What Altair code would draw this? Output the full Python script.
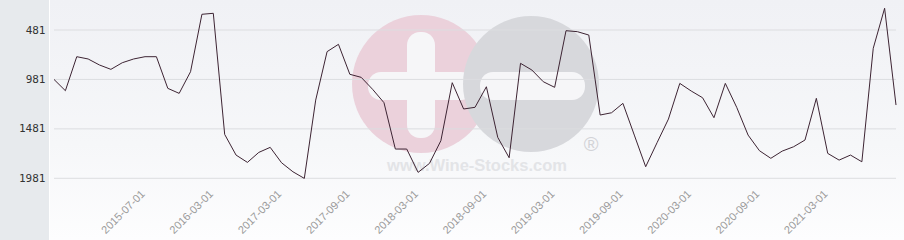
import altair as alt
import pandas as pd

dates = [
    "2014-11-01", "2014-12-01", "2015-01-01", "2015-02-01", "2015-03-01",
    "2015-04-01", "2015-05-01", "2015-06-01", "2015-07-01", "2015-09-01",
    "2015-10-01", "2015-11-01", "2015-12-01", "2016-01-01", "2016-03-01",
    "2016-05-01", "2016-07-01", "2016-09-01", "2016-11-01", "2017-01-01",
    "2017-03-01", "2017-04-01", "2017-05-01", "2017-06-01", "2017-07-01",
    "2017-08-01", "2017-09-01", "2017-10-01", "2017-11-01", "2017-12-01",
    "2018-01-01", "2018-02-01", "2018-03-01", "2018-04-01", "2018-05-01",
    "2018-06-01", "2018-07-01", "2018-08-01", "2018-09-01", "2018-10-01",
    "2018-11-01", "2018-12-01", "2019-01-01", "2019-02-01", "2019-03-01",
    "2019-04-01", "2019-05-01", "2019-06-01", "2019-07-01", "2019-08-01",
    "2019-09-01", "2019-10-01", "2019-11-01", "2019-12-01", "2020-01-01",
    "2020-02-01", "2020-03-01", "2020-04-01", "2020-05-01", "2020-06-01",
    "2020-07-01", "2020-08-01", "2020-09-01", "2020-10-01", "2020-11-01",
    "2020-12-01", "2021-01-01", "2021-02-01", "2021-03-01", "2021-04-01",
    "2021-05-01", "2021-06-01", "2021-07-01", "2021-08-01", "2021-09-01",
]

ranks = [
    981, 1095, 751, 774, 835, 879, 812, 774, 751, 751,
    1071, 1122, 903, 322, 312, 1537, 1746, 1820, 1719, 1668,
    1824, 1915, 1982, 1190, 700, 626, 929, 960, 1081, 1216,
    1685, 1685, 1921, 1830, 1601, 1014, 1280, 1263, 1055, 1567,
    1773, 818, 886, 1004, 1061, 488, 498, 532, 1341, 1318,
    1223, 1544, 1864, 1621, 1382, 1021, 1098, 1166, 1368, 1021,
    1263, 1544, 1702, 1779, 1706, 1662, 1594, 1172, 1729, 1797,
    1746, 1814, 666, 261, 1240,
]

x_labels = [
    "2015-07-01", "2016-03-01", "2017-03-01", "2017-09-01", "2018-03-01",
    "2018-09-01", "2019-03-01", "2019-09-01", "2020-03-01", "2020-09-01",
    "2021-03-01",
]
y_ticks = [481, 981, 1481, 1981]

W = 842
H = 190
PAD_L = 54
PAD_B = 240 - H

df = pd.DataFrame({"date": dates, "rank": ranks})
one = pd.DataFrame({"k": [0]})
grid_df = pd.DataFrame({"rank": y_ticks})

yscale = alt.Scale(domain=[177.5, 2099.4], reverse=True, nice=False, zero=False)
xscale = alt.Scale(type="point", padding=0)

bg = alt.Chart(one).mark_rect(
    fill=alt.LinearGradient(
        gradient="linear",
        stops=[
            alt.GradientStop(color="#f0f1f5", offset=0),
            alt.GradientStop(color="#f6f7f9", offset=0.6),
            alt.GradientStop(color="#fdfdfe", offset=1),
        ],
        x1=0, x2=0, y1=0, y2=1,
    )
).encode(
    x=alt.value(-4), x2=alt.value(W + 10),
    y=alt.value(0), y2=alt.value(240),
)

panel = alt.Chart(one).mark_rect(fill="#e7eaed").encode(
    x=alt.value(-PAD_L), x2=alt.value(-5),
    y=alt.value(0), y2=alt.value(240),
)

# watermark (decoration)
pink = alt.Chart(one).mark_point(
    shape="circle", filled=True, color="#ebd1db", opacity=1, size=138 * 138
).encode(x=alt.value(421 - PAD_L), y=alt.value(84))
pink_v = alt.Chart(one).mark_rect(fill="#f6f6f8", cornerRadius=13).encode(
    x=alt.value(407 - PAD_L), x2=alt.value(435 - PAD_L),
    y=alt.value(32), y2=alt.value(138),
)
pink_h = alt.Chart(one).mark_rect(fill="#f6f6f8", cornerRadius=13).encode(
    x=alt.value(368 - PAD_L), x2=alt.value(474 - PAD_L),
    y=alt.value(72), y2=alt.value(100),
)
gray = alt.Chart(one).mark_point(
    shape="circle", filled=True, color="#d7d8dc", opacity=1, size=136 * 136
).encode(x=alt.value(531 - PAD_L), y=alt.value(84))
gray_h = alt.Chart(one).mark_rect(fill="#f6f6f8", cornerRadius=13).encode(
    x=alt.value(480 - PAD_L), x2=alt.value(585 - PAD_L),
    y=alt.value(72), y2=alt.value(100),
)
wm_text = alt.Chart(one).mark_text(
    text="www.Wine-Stocks.com", font="Liberation Sans", fontWeight="bold",
    fontSize=16.5, color="#e3e4e7", align="center", baseline="middle",
).encode(x=alt.value(477 - PAD_L), y=alt.value(166))
wm_reg = alt.Chart(one).mark_text(
    text="®", font="Liberation Sans", fontSize=20, color="#d2d3d7",
    align="center", baseline="middle",
).encode(x=alt.value(591 - PAD_L), y=alt.value(145))

grid = alt.Chart(grid_df).mark_rule(color="#dcdde0", strokeWidth=1).encode(
    y=alt.Y("rank:Q", scale=yscale)
)

line = alt.Chart(df).mark_line(color="#3d2433", strokeWidth=1).encode(
    x=alt.X(
        "date:O", sort=None, scale=xscale, title=None,
        axis=alt.Axis(
            values=x_labels, labelAngle=-45, labelColor="#9a9a9a",
            labelFont="Liberation Sans", labelFontSize=11, ticks=False,
            domain=False, grid=False, labelPadding=2, labelOverlap=False,
            labelBaseline="middle", labelAlign="right", labelOffset=-2,
            zindex=1,
        ),
    ),
    y=alt.Y(
        "rank:Q", scale=yscale, title=None,
        axis=alt.Axis(
            values=y_ticks, format="d", labelColor="#333333",
            labelFont="DejaVu Sans Mono",
            labelFontSize=11, ticks=False, domain=False, grid=False,
            labelPadding=9, zindex=1,
        ),
    ),
)

chart = alt.layer(
    bg, panel, pink, pink_v, pink_h, gray, gray_h, wm_text, wm_reg, grid, line
).properties(
    width=W, height=H,
    autosize=alt.AutoSizeParams(type="none"),
    padding={"left": PAD_L, "top": 0, "right": 8, "bottom": PAD_B},
).configure_view(stroke=None).configure(background="#ffffff")

chart.save("out.html", embed_options={"renderer": "svg", "actions": False})
